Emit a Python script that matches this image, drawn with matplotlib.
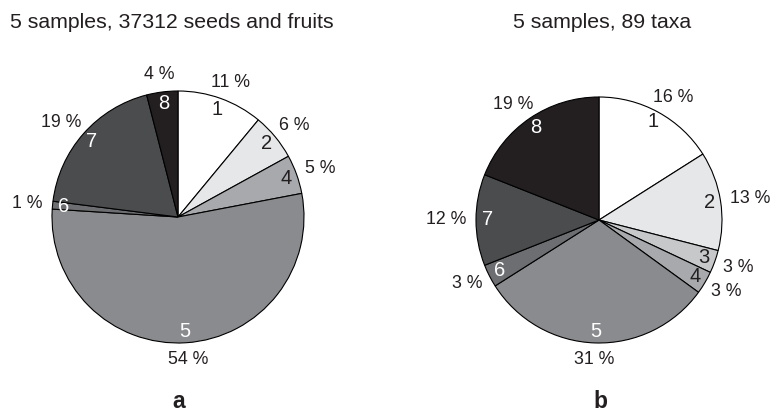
import numpy as np
import matplotlib
matplotlib.use('Agg')
import matplotlib.pyplot as plt

plt.rcParams['font.family'] = ['Liberation Sans', 'DejaVu Sans']

# grey shades for the 8 groups
shades = {1: '#ffffff', 2: '#e6e7e8', 3: '#c7c8ca', 4: '#a7a9ac',
          5: '#8a8b8e', 6: '#6d6e71', 7: '#4b4c4e', 8: '#231f20'}

# a: seeds and fruits
a_ids = [1, 2, 4, 5, 6, 7, 8]
a_pct = [11, 6, 5, 54, 1, 19, 4]
a_title = '5 samples, 37312 seeds and fruits'

# b: taxa
b_ids = [1, 2, 3, 4, 5, 6, 7, 8]
b_pct = [16, 13, 3, 3, 31, 3, 12, 19]
b_title = '5 samples, 89 taxa'

W, H = 772, 412
fig = plt.figure(figsize=(W / 100, H / 100), dpi=100)

pct_labels = []


def draw_pie(cx, cy, r, ids, pct):
    ax = fig.add_axes([(cx - r) / W, (H - cy - r) / H, 2 * r / W, 2 * r / H])
    wedges, _ = ax.pie(pct, colors=[shades[i] for i in ids], startangle=90,
                       counterclock=False,
                       wedgeprops=dict(edgecolor='black', linewidth=0.8))
    ax.set_xlim(-1, 1)
    ax.set_ylim(-1, 1)
    ax.set_aspect('equal')
    ax.axis('off')
    for w, i, p in zip(wedges, ids, pct):
        th = np.deg2rad((w.theta1 + w.theta2) / 2)
        c, s = np.cos(th), np.sin(th)
        ax.text(0.91 * c, 0.91 * s, str(i), ha='center', va='center',
                fontsize=14.5, color='#231f20' if i <= 4 else 'white')
        t = ax.annotate(f'{p} %', (1.08 * c, 1.08 * s), xytext=(0, 0),
                        textcoords='offset pixels', ha='center', va='center',
                        fontsize=12.8, color='#231f20', annotation_clip=False)
        pct_labels.append((t, c, s))


draw_pie(178, 217, 126, a_ids, a_pct)
draw_pie(599, 220, 123, b_ids, b_pct)

# push the percent labels out so their box sits just outside the circle
fig.canvas.draw()
for t, c, s in pct_labels:
    bb = t.get_window_extent()
    t.xyann = (bb.width / 2 * c, bb.height * 0.42 * s)

fig.text(10 / W, 1 - 23 / H, a_title, ha='left', va='center', fontsize=15.3,
         color='#231f20')
fig.text(602 / W, 1 - 23 / H, b_title, ha='center', va='center', fontsize=15.3,
         color='#231f20')
fig.text(179 / W, (H - 408) / H, 'a', ha='center', va='baseline',
         fontsize=16.5, fontweight='bold', color='#231f20')
fig.text(600 / W, (H - 408) / H, 'b', ha='center', va='baseline',
         fontsize=16.5, fontweight='bold', color='#231f20')

fig.savefig('out.png', dpi=100)
